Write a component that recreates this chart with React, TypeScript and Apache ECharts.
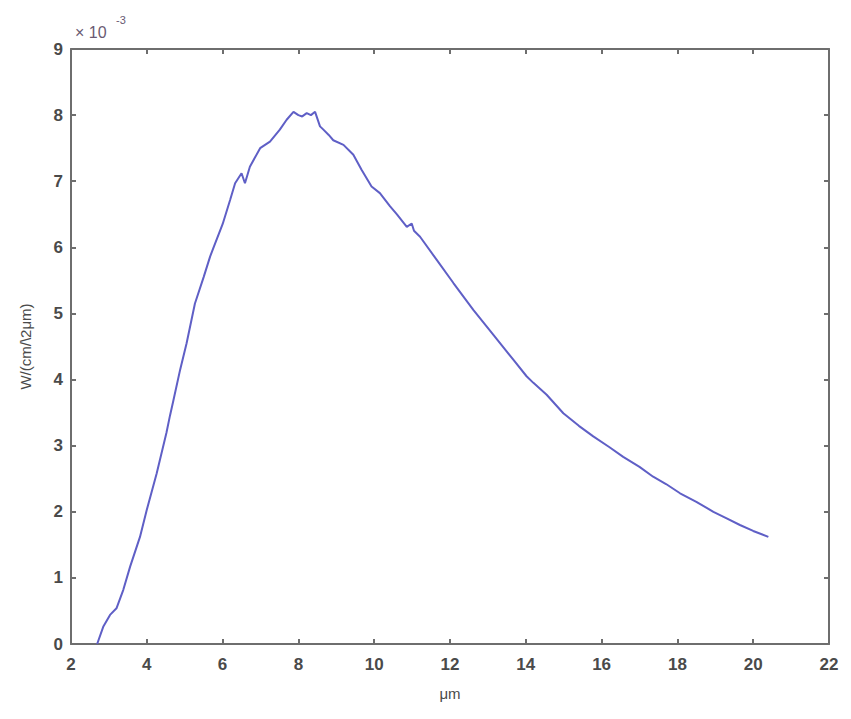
import React, { useEffect, useRef } from "react";
import * as echarts from "echarts";

// wavelength (µm)
const wavelength = [
  2.69, 2.85, 3.03, 3.2, 3.38, 3.56, 3.82, 4.0, 4.26, 4.52, 4.61, 4.7, 4.88, 5.05, 5.27, 5.5,
  5.67, 5.75, 6.0, 6.2, 6.33, 6.5, 6.59, 6.72, 6.99, 7.25, 7.51, 7.69, 7.87, 8.0, 8.1, 8.22,
  8.33, 8.44, 8.57, 8.66, 8.8, 8.92, 9.19, 9.45, 9.67, 9.93, 10.15, 10.42, 10.6, 10.86, 10.99,
  11.05, 11.21, 11.65, 12.09, 12.62, 13.14, 13.67, 14.02, 14.2, 14.55, 14.99, 15.4, 15.78,
  16.2, 16.57, 17.0, 17.36, 17.7, 18.07, 18.5, 18.95, 19.3, 19.65, 20.0, 20.4,
];
// irradiance (×10^-3 W/(cm^2 µm))
const irradiance = [
  0, 0.26, 0.44, 0.54, 0.82, 1.17, 1.62, 2.03, 2.58, 3.2, 3.45, 3.68, 4.15, 4.55, 5.15, 5.55,
  5.86, 5.98, 6.35, 6.72, 6.97, 7.12, 6.97, 7.22, 7.5, 7.6, 7.78, 7.93, 8.05, 8.0, 7.98, 8.03,
  8.0, 8.05, 7.83, 7.78, 7.7, 7.62, 7.55, 7.4, 7.17, 6.92, 6.82, 6.62, 6.5, 6.31, 6.36,
  6.25, 6.16, 5.81, 5.46, 5.05, 4.68, 4.3, 4.05, 3.95, 3.77, 3.49, 3.3, 3.14,
  2.98, 2.83, 2.68, 2.53, 2.42, 2.28, 2.15, 2.0, 1.9, 1.8, 1.71, 1.62,
];

const xTicks = { min: 2, max: 22, interval: 2 };
const yTicks = { min: 0, max: 9, interval: 1 };
const xLabel = "μm";
const yLabel = "W/(cm/\\2μm)";

export default function App() {
  const ref = useRef<HTMLDivElement>(null);
  useEffect(() => {
    if (!ref.current) return;
    const chart = echarts.init(ref.current, undefined, { renderer: "svg" });
    const axisColor = "#6e6e6e";
    const labelColor = "#4a4a4a";
    const font = "Liberation Sans, Arial, sans-serif";
    const lineStyle = { color: axisColor, width: 2 };
    const tick = { show: true, inside: true, length: 5, lineStyle: { color: axisColor, width: 2 } };
    chart.setOption({
      animation: false,
      backgroundColor: "#ffffff",
      grid: { left: 71, right: 22, top: 49, bottom: 75, containLabel: false },
      xAxis: [
        {
          type: "value",
          min: xTicks.min,
          max: xTicks.max,
          interval: xTicks.interval,
          position: "bottom",
          axisLine: { show: true, onZero: false, lineStyle },
          axisTick: tick,
          splitLine: { show: false },
          axisLabel: { color: labelColor, fontSize: 17, fontWeight: "bold", fontFamily: font, margin: 12 },
          name: xLabel,
          nameLocation: "middle",
          nameGap: 42,
          nameTextStyle: { color: labelColor, fontSize: 15, fontFamily: font },
        },
        {
          type: "value",
          min: xTicks.min,
          max: xTicks.max,
          interval: xTicks.interval,
          position: "top",
          axisLine: { show: true, onZero: false, lineStyle },
          axisTick: tick,
          splitLine: { show: false },
          axisLabel: { show: false },
        },
      ],
      yAxis: [
        {
          type: "value",
          min: yTicks.min,
          max: yTicks.max,
          interval: yTicks.interval,
          position: "left",
          axisLine: { show: true, onZero: false, lineStyle },
          axisTick: tick,
          splitLine: { show: false },
          axisLabel: { color: labelColor, fontSize: 17, fontWeight: "bold", fontFamily: font, margin: 8 },
          name: yLabel,
          nameLocation: "middle",
          nameRotate: 90,
          nameGap: 38,
          nameTextStyle: { color: labelColor, fontSize: 15, fontFamily: font },
        },
        {
          type: "value",
          min: yTicks.min,
          max: yTicks.max,
          interval: yTicks.interval,
          position: "right",
          axisLine: { show: true, onZero: false, lineStyle },
          axisTick: tick,
          splitLine: { show: false },
          axisLabel: { show: false },
        },
      ],
      graphic: [
        {
          type: "text",
          left: 75,
          top: 24,
          style: { text: "× 10", fill: "#6a5a72", font: "16px Liberation Sans, Arial, sans-serif" },
        },
        {
          type: "text",
          left: 116,
          top: 14,
          style: { text: "-3", fill: "#6a5a72", font: "11px Liberation Sans, Arial, sans-serif" },
        },
      ],
      series: [
        {
          type: "line",
          xAxisIndex: 0,
          yAxisIndex: 0,
          data: wavelength.map((x, i) => [x, irradiance[i]]),
          showSymbol: false,
          symbol: "none",
          lineStyle: { color: "#5f5fc6", width: 2 },
        },
      ],
    });
    return () => chart.dispose();
  }, []);
  return <div ref={ref} style={{ width: 851, height: 719, position: "absolute", left: 0, top: 0 }} />;
}
